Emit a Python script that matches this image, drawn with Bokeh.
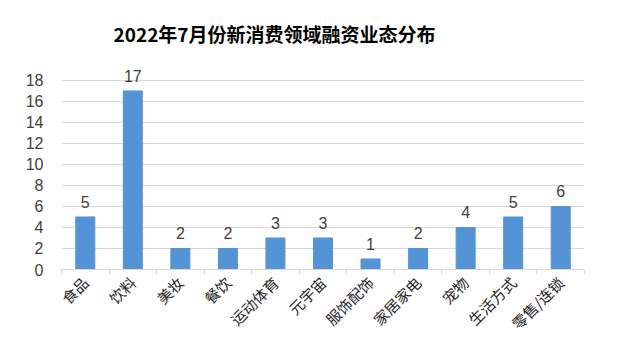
import math
import numpy as np
from bokeh.plotting import figure
from bokeh.models import (Range1d, LinearAxis, FixedTicker, ColumnDataSource)
from bokeh.core.properties import value
from bokeh.embed import file_html
from bokeh.resources import INLINE

categories = ["食品", "饮料", "美妆", "餐饮", "运动体育", "元宇宙", "服饰配饰",
              "家居家电", "宠物", "生活方式", "零售/连锁"]
counts = [5, 17, 2, 2, 3, 3, 1, 2, 4, 5, 6]
y_ticks = [0, 2, 4, 6, 8, 10, 12, 14, 16, 18]
title_text = "2022年7月份新消费领域融资业态分布"

n = len(categories)
centers = [i + 0.5 for i in range(n)]
bounds = list(range(n + 1))
src = ColumnDataSource(dict(x=centers, val=counts,
                            lbl=[str(v) for v in counts]))

p = figure(width=632, height=354, output_backend="svg", toolbar_location=None,
           x_range=Range1d(0, n), y_range=Range1d(0, 19.52),
           x_axis_location=None, y_axis_location=None,
           min_border_left=61, min_border_right=48,
           min_border_top=64, min_border_bottom=85,
           outline_line_color=None)
p.border_fill_color = "white"
p.background_fill_color = "white"

p.title.text = title_text
p.title.align = "left"
p.title.offset = 52
p.title.text_font = "Noto Sans CJK SC"
p.title.text_font_style = "bold"
p.title.text_font_size = "19px"
p.title.text_color = "#000000"
p.title.standoff = 35

# y axis
yax = LinearAxis(ticker=FixedTicker(ticks=y_ticks))
yax.axis_line_color = None
yax.major_tick_line_color = None
yax.minor_tick_line_color = None
yax.major_label_text_font = "Liberation Sans"
yax.major_label_text_font_size = "16px"
yax.major_label_text_color = "#404040"
yax.major_label_standoff = 12
p.add_layout(yax, "left")

p.ygrid.ticker = FixedTicker(ticks=y_ticks)
p.ygrid.grid_line_color = "#d9d9d9"
p.xgrid.grid_line_color = None

# category axis: labels at centers, tick marks at category boundaries
cax = LinearAxis(ticker=FixedTicker(ticks=centers, minor_ticks=bounds))
cax.major_label_overrides = {c: name for c, name in zip(centers, categories)}
cax.axis_line_color = "#d9d9d9"
cax.major_tick_line_color = None
cax.minor_tick_line_color = "#d9d9d9"
cax.minor_tick_out = 5
cax.minor_tick_in = 0
cax.major_tick_out = 0
cax.major_tick_in = 0
cax.major_label_orientation = math.pi / 4
cax.major_label_text_font = "Noto Sans CJK SC"
cax.major_label_text_font_size = "15px"
cax.major_label_text_color = "#262626"
cax.major_label_standoff = 5
p.add_layout(cax, "below")

p.vbar(x="x", top="val", width=0.4, source=src,
       fill_color="#5493d6", line_color="#5493d6")

p.text(x="x", y="val", text="lbl", source=src,
       text_align="center", text_baseline="bottom", y_offset=-9,
       text_font=value("Liberation Sans"), text_font_size="16px",
       text_color="#404040")

html = file_html(p, INLINE)
html = html.replace("<body>", "<body style=\"margin:0\">")
open("out.html", "w").write(html)
